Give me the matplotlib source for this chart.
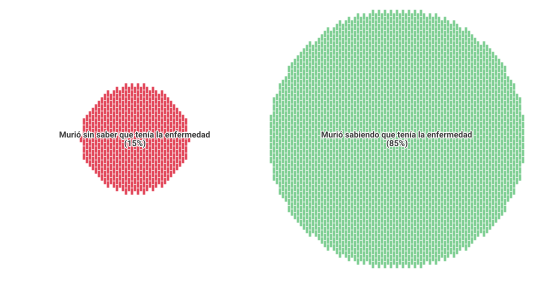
import numpy as np
import matplotlib
matplotlib.use('Agg')
from matplotlib import pyplot as plt
from matplotlib.patches import Rectangle
from matplotlib.collections import PatchCollection
import matplotlib.patheffects as pe

labels = ['Murió sin saber que tenía la enfermedad', 'Murió sabiendo que tenía la enfermedad']
values = [15, 85]
colors = ['#e2485b', '#80cf94']
centers_x = [135, 397]
center_y = 139

fig = plt.figure(figsize=(5.33, 3.0), dpi=100)
ax = fig.add_axes([0, 0, 1, 1])
ax.set_xlim(0, 533)
ax.set_ylim(300, 0)
ax.axis('off')

k = 129 / np.sqrt(85)
dx, dy = 3.0, 7.0
for lab, v, c, cx in zip(labels, values, colors, centers_x):
    R = k * np.sqrt(v)
    n = int(R / dx) + 2
    m = int(R / dy) + 2
    rects = []
    for i in range(-n, n + 1):
        off = (i % 2) * dy / 2
        for j in range(-m, m + 1):
            x = cx + i * dx
            y = center_y + j * dy + off
            if (x - cx) ** 2 + (y - center_y) ** 2 <= R ** 2:
                rects.append(Rectangle((x - 1.25, y - 3.2), 2.5, 6.4))
    pc = PatchCollection(rects, facecolor=c, edgecolor='none', antialiased=True)
    pc.set_snap(False)
    ax.add_collection(pc)
    ax.text(cx, center_y - 4, lab, ha='center', va='center', fontsize=6.0,
            family='Roboto', weight='bold', color='#3a3a3a',
            path_effects=[pe.withStroke(linewidth=1.2, foreground='white')])
    ax.text(cx, center_y + 5, '(%d%%)' % v, ha='center', va='center', fontsize=6.0,
            family='Roboto', weight='bold', color='#3a3a3a',
            path_effects=[pe.withStroke(linewidth=1.2, foreground='white')])

fig.savefig('out.png', dpi=100)
